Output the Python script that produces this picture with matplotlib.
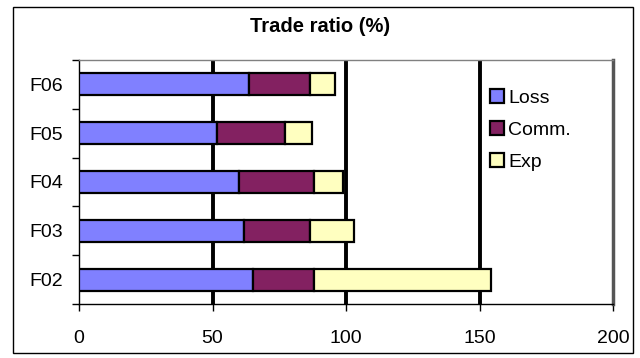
import matplotlib
matplotlib.use("Agg")
import matplotlib.pyplot as plt
from matplotlib.patches import Rectangle
import numpy as np

plt.rcParams['font.family'] = ['Liberation Sans', 'DejaVu Sans']

categories = ["F02", "F03", "F04", "F05", "F06"]
loss = [65.3, 61.7, 59.9, 51.5, 63.5]
comm = [22.9, 25.0, 28.3, 25.7, 23.2]
exp_ = [66.1, 16.2, 10.7, 10.2, 9.1]
series_names = ["Loss", "Comm.", "Exp"]
colors = ["#8080FF", "#832161", "#FFFFC0"]
xticks = [0, 50, 100, 150, 200]

W, H = 640, 358
fig = plt.figure(figsize=(W / 100, H / 100), dpi=100)

# outer chart frame
fig.patches.append(Rectangle((13 / W, 1 - 353 / H), (633 - 13) / W, (353 - 7) / H,
                             transform=fig.transFigure, fill=False,
                             edgecolor="black", linewidth=1.0))

ax = fig.add_axes([79 / W, 1 - 304 / H, (613 - 79) / W, (304 - 60) / H])

y = np.arange(len(categories))
left = np.zeros(len(categories))
for vals, name, c in zip([loss, comm, exp_], series_names, colors):
    ax.barh(y, vals, left=left, height=0.45, color=c, edgecolor="black",
            linewidth=1.6, label=name, zorder=3)
    left = left + np.array(vals)

ax.set_xlim(0, 200)
ax.set_ylim(-0.5, len(categories) - 0.5)
ax.set_xticks(xticks)
ax.set_xticklabels([str(t) for t in xticks], fontsize=14)
ax.set_yticks(y)
ax.set_yticklabels(categories, fontsize=14)
ax.tick_params(axis='y', length=0, pad=11.5)
ax.set_yticks(np.arange(-0.5, len(categories), 1.0), minor=True)
ax.tick_params(axis='y', which='minor', length=5, direction='out', width=1)
ax.tick_params(axis='x', length=5, direction='out', width=1, pad=14)

for gx in [50, 100, 150]:
    ax.axvline(gx, color="black", linewidth=2.8, zorder=2)

ax.spines['left'].set_linewidth(1.0)
ax.spines['bottom'].set_linewidth(1.0)
ax.spines['right'].set_color("#555555")
ax.spines['right'].set_linewidth(2.5)
ax.spines['top'].set_color("#808080")
ax.spines['top'].set_linewidth(1.0)

fig.text(0.5, 1 - 27 / H, "Trade ratio (%)", ha="center", va="center",
         fontsize=14.5, fontweight="bold")

leg = ax.legend(loc="upper left", bbox_to_anchor=((490 - 79) / (613 - 79), (60 - 89) / (304 - 60) + 1),
                frameon=False, fontsize=14, handlelength=0.7, handleheight=0.7,
                handletextpad=0.25, labelspacing=0.75, borderaxespad=0,
                borderpad=0)
for h in leg.legend_handles:
    h.set_linewidth(1.6)

fig.savefig("out.png", dpi=100)
